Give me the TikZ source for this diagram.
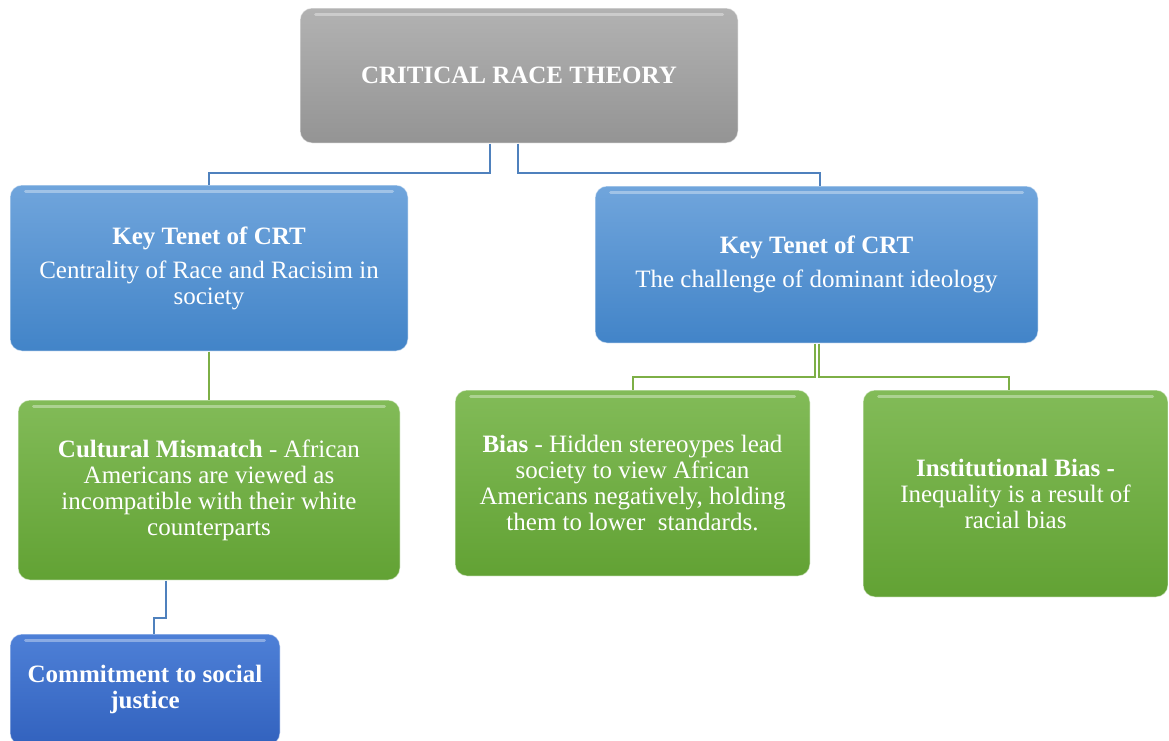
\documentclass[tikz,border=0pt]{standalone}
\usepackage{fontspec}
\setmainfont{Liberation Serif}
\definecolor{gtop}{RGB}{178,178,178}
\definecolor{gbot}{RGB}{148,148,148}
\definecolor{btop}{RGB}{112,165,220}
\definecolor{bbot}{RGB}{66,132,200}
\definecolor{ntop}{RGB}{130,187,88}
\definecolor{nbot}{RGB}{98,162,52}
\definecolor{dtop}{RGB}{78,128,215}
\definecolor{dbot}{RGB}{50,98,190}
\definecolor{lblue}{RGB}{79,129,189}
\definecolor{lgreen}{RGB}{125,175,70}
\tikzset{
  box/.style={rounded corners=12pt, inner sep=0pt, align=center, text=white,
    font=\fontsize{25}{26}\selectfont, draw=white, draw opacity=0.5, line width=1pt},
  graybox/.style={box, top color=gtop, bottom color=gbot},
  bluebox/.style={box, top color=btop, bottom color=bbot},
  greenbox/.style={box, top color=ntop, bottom color=nbot},
  darkbox/.style={box, top color=dtop, bottom color=dbot},
  gloss/.style={white, opacity=0.35, line width=3pt, line cap=round},
  bconn/.style={lblue, line width=2pt},
  gconn/.style={lgreen, line width=2pt}
}
\begin{document}
\begin{tikzpicture}[x=1pt,y=-1pt]
\useasboundingbox (0,0) rectangle (1169,740);
\clip (0,0) rectangle (1169,740);

\node[graybox, minimum width=438pt, minimum height=135pt] (crt) at (519,75.5)
  {\fontsize{25}{26}\selectfont\bfseries CRITICAL RACE THEORY};

\node[bluebox, minimum width=398pt, minimum height=166pt] (ktl) at (209,268)
  {\textbf{Key Tenet of CRT}\\[8pt]Centrality of Race and Racisim in\\society};

\node[bluebox, minimum width=443pt, minimum height=157pt] (ktr) at (816.5,264.5)
  {\textbf{Key Tenet of CRT}\\[8pt]The challenge of dominant ideology};

\node[greenbox, minimum width=382pt, minimum height=180pt] (cm) at (209,490)
  {\textbf{Cultural Mismatch} - African\\Americans are viewed as\\incompatible with their white\\counterparts};

\node[greenbox, minimum width=355pt, minimum height=186pt] (bias) at (632.5,483)
  {\textbf{Bias} - Hidden stereoypes lead\\society to view African\\Americans negatively, holding\\them to lower\ \ standards.};

\node[greenbox, minimum width=305pt, minimum height=207pt] (inst) at (1015.5,493.5)
  {\textbf{Institutional Bias -}\\Inequality is a result of\\racial bias};

\node[darkbox, minimum width=270pt, minimum height=111pt] (cj) at (145,689.5)
  {\textbf{Commitment to social}\\\textbf{justice}};

% gloss highlights
\foreach \n in {crt,ktl,ktr,cm,bias,inst,cj}{
  \draw[gloss] ([xshift=16pt,yshift=-7pt]\n.north west) -- ([xshift=-16pt,yshift=-7pt]\n.north east);
}

% connectors
\draw[bconn] ([xshift=-29pt]crt.south) -- ++(0,29) -| (ktl.north);
\draw[bconn] ([xshift=-1pt]crt.south) -- ++(0,29) -| ([xshift=3pt]ktr.north);
\draw[gconn] (ktl.south) -- (cm.north);
\draw[gconn] ([xshift=-2pt]ktr.south) -- ++(0,33) -| (bias.north);
\draw[gconn] ([xshift=2pt]ktr.south) -- ++(0,33) -| ([xshift=-7pt]inst.north);
\draw[bconn] ([xshift=-43pt]cm.south) -- ++(0,37) -| ([xshift=9pt]cj.north);
\end{tikzpicture}
\end{document}
